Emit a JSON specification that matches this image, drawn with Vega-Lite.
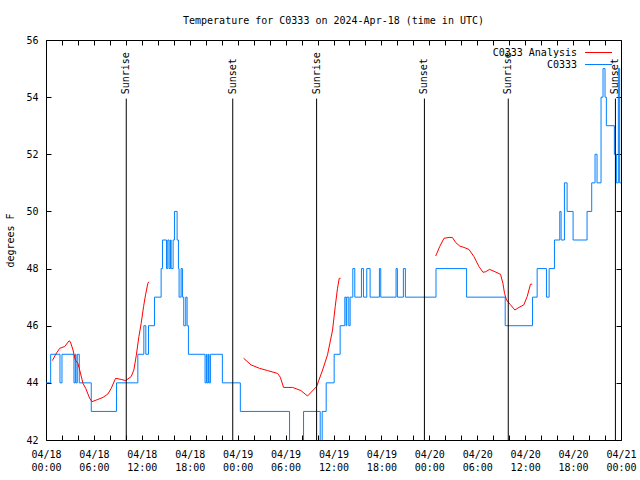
{
  "$schema": "https://vega.github.io/schema/vega-lite/v6.json",
  "width": 575,
  "height": 400,
  "autosize": {"type": "none"},
  "padding": {"left": 46, "top": 40, "right": 19, "bottom": 40},
  "background": "white",
  "title": {"text": "Temperature for C0333 on 2024-Apr-18 (time in UTC)", "font": "DejaVu Sans Mono", "fontSize": 10, "fontWeight": "normal", "offset": 9, "anchor": "middle", "color": "black"},
  "config": {
    "view": {"stroke": "black", "strokeWidth": 1},
    "axis": {"grid": false, "domain": false, "labelFont": "DejaVu Sans Mono", "labelFontSize": 10, "labelColor": "black", "titleFont": "DejaVu Sans Mono", "titleFontSize": 10, "titleFontWeight": "normal", "titleColor": "black", "tickColor": "black", "tickSize": -5, "tickCount": 100},
    "legend": {"labelFont": "DejaVu Sans Mono", "labelFontSize": 10, "labelColor": "black"}
  },
  "datasets": {
    "obs": [
      {"t": "2024-04-18T00:00:00Z", "v": 44}, {"t": "2024-04-18T00:35:00Z", "v": 45}, {"t": "2024-04-18T01:45:00Z", "v": 44}, {"t": "2024-04-18T02:00:00Z", "v": 45},
      {"t": "2024-04-18T03:30:00Z", "v": 44}, {"t": "2024-04-18T03:40:00Z", "v": 45}, {"t": "2024-04-18T03:45:00Z", "v": 44}, {"t": "2024-04-18T03:55:00Z", "v": 45},
      {"t": "2024-04-18T04:10:00Z", "v": 44}, {"t": "2024-04-18T05:40:00Z", "v": 43}, {"t": "2024-04-18T08:50:00Z", "v": 44}, {"t": "2024-04-18T11:30:00Z", "v": 45},
      {"t": "2024-04-18T12:15:00Z", "v": 46}, {"t": "2024-04-18T12:30:00Z", "v": 45}, {"t": "2024-04-18T12:50:00Z", "v": 46}, {"t": "2024-04-18T13:35:00Z", "v": 47},
      {"t": "2024-04-18T14:25:00Z", "v": 48}, {"t": "2024-04-18T14:35:00Z", "v": 49}, {"t": "2024-04-18T15:05:00Z", "v": 48}, {"t": "2024-04-18T15:15:00Z", "v": 49},
      {"t": "2024-04-18T15:25:00Z", "v": 48}, {"t": "2024-04-18T15:35:00Z", "v": 49}, {"t": "2024-04-18T15:40:00Z", "v": 48}, {"t": "2024-04-18T15:55:00Z", "v": 49},
      {"t": "2024-04-18T16:05:00Z", "v": 50}, {"t": "2024-04-18T16:25:00Z", "v": 49}, {"t": "2024-04-18T16:35:00Z", "v": 48}, {"t": "2024-04-18T16:40:00Z", "v": 47},
      {"t": "2024-04-18T16:55:00Z", "v": 48}, {"t": "2024-04-18T17:05:00Z", "v": 47}, {"t": "2024-04-18T17:15:00Z", "v": 46}, {"t": "2024-04-18T17:30:00Z", "v": 47},
      {"t": "2024-04-18T17:40:00Z", "v": 46}, {"t": "2024-04-18T17:50:00Z", "v": 45}, {"t": "2024-04-18T19:55:00Z", "v": 44}, {"t": "2024-04-18T20:05:00Z", "v": 45},
      {"t": "2024-04-18T20:10:00Z", "v": 44}, {"t": "2024-04-18T20:20:00Z", "v": 45}, {"t": "2024-04-18T20:25:00Z", "v": 44}, {"t": "2024-04-18T20:35:00Z", "v": 45},
      {"t": "2024-04-18T22:05:00Z", "v": 44}, {"t": "2024-04-19T00:20:00Z", "v": 43}, {"t": "2024-04-19T06:30:00Z", "v": 41}, {"t": "2024-04-19T08:15:00Z", "v": 43},
      {"t": "2024-04-19T10:20:00Z", "v": 41}, {"t": "2024-04-19T10:35:00Z", "v": 43}, {"t": "2024-04-19T11:05:00Z", "v": 44}, {"t": "2024-04-19T12:05:00Z", "v": 45},
      {"t": "2024-04-19T12:50:00Z", "v": 46}, {"t": "2024-04-19T13:25:00Z", "v": 47}, {"t": "2024-04-19T13:35:00Z", "v": 46}, {"t": "2024-04-19T13:40:00Z", "v": 47},
      {"t": "2024-04-19T13:55:00Z", "v": 46}, {"t": "2024-04-19T14:05:00Z", "v": 47}, {"t": "2024-04-19T14:25:00Z", "v": 48}, {"t": "2024-04-19T14:40:00Z", "v": 47},
      {"t": "2024-04-19T15:30:00Z", "v": 48}, {"t": "2024-04-19T15:45:00Z", "v": 47}, {"t": "2024-04-19T16:10:00Z", "v": 48}, {"t": "2024-04-19T16:35:00Z", "v": 47},
      {"t": "2024-04-19T17:45:00Z", "v": 48}, {"t": "2024-04-19T17:55:00Z", "v": 47}, {"t": "2024-04-19T19:50:00Z", "v": 48}, {"t": "2024-04-19T20:00:00Z", "v": 47},
      {"t": "2024-04-19T20:45:00Z", "v": 48}, {"t": "2024-04-19T21:00:00Z", "v": 47}, {"t": "2024-04-20T00:50:00Z", "v": 48}, {"t": "2024-04-20T04:40:00Z", "v": 47},
      {"t": "2024-04-20T09:30:00Z", "v": 46}, {"t": "2024-04-20T12:55:00Z", "v": 47}, {"t": "2024-04-20T13:30:00Z", "v": 48}, {"t": "2024-04-20T14:40:00Z", "v": 47},
      {"t": "2024-04-20T15:00:00Z", "v": 48}, {"t": "2024-04-20T15:40:00Z", "v": 49}, {"t": "2024-04-20T16:20:00Z", "v": 50}, {"t": "2024-04-20T16:30:00Z", "v": 49},
      {"t": "2024-04-20T16:55:00Z", "v": 51}, {"t": "2024-04-20T17:15:00Z", "v": 50}, {"t": "2024-04-20T18:00:00Z", "v": 49}, {"t": "2024-04-20T19:45:00Z", "v": 50},
      {"t": "2024-04-20T20:20:00Z", "v": 51}, {"t": "2024-04-20T20:45:00Z", "v": 52}, {"t": "2024-04-20T21:00:00Z", "v": 51}, {"t": "2024-04-20T21:30:00Z", "v": 54},
      {"t": "2024-04-20T21:45:00Z", "v": 55}, {"t": "2024-04-20T22:00:00Z", "v": 54}, {"t": "2024-04-20T22:10:00Z", "v": 53}, {"t": "2024-04-20T23:10:00Z", "v": 52},
      {"t": "2024-04-20T23:25:00Z", "v": 51}, {"t": "2024-04-20T23:40:00Z", "v": 55}, {"t": "2024-04-20T23:50:00Z", "v": 51}, {"t": "2024-04-21T00:00:00Z", "v": 51}
    ],
    "ana": [
      {"t": "2024-04-18T00:48:00Z", "v": 44.78, "seg": 1}, {"t": "2024-04-18T01:13:00Z", "v": 45.0, "seg": 1}, {"t": "2024-04-18T01:43:00Z", "v": 45.21, "seg": 1},
      {"t": "2024-04-18T02:20:00Z", "v": 45.27, "seg": 1}, {"t": "2024-04-18T02:53:00Z", "v": 45.47, "seg": 1}, {"t": "2024-04-18T03:03:00Z", "v": 45.44, "seg": 1},
      {"t": "2024-04-18T03:23:00Z", "v": 45.15, "seg": 1}, {"t": "2024-04-18T03:40:00Z", "v": 44.8, "seg": 1}, {"t": "2024-04-18T04:00:00Z", "v": 44.68, "seg": 1},
      {"t": "2024-04-18T04:13:00Z", "v": 44.45, "seg": 1}, {"t": "2024-04-18T04:38:00Z", "v": 43.98, "seg": 1}, {"t": "2024-04-18T04:58:00Z", "v": 43.81, "seg": 1},
      {"t": "2024-04-18T05:28:00Z", "v": 43.46, "seg": 1}, {"t": "2024-04-18T05:45:00Z", "v": 43.34, "seg": 1}, {"t": "2024-04-18T06:30:00Z", "v": 43.42, "seg": 1},
      {"t": "2024-04-18T07:08:00Z", "v": 43.49, "seg": 1}, {"t": "2024-04-18T07:45:00Z", "v": 43.61, "seg": 1}, {"t": "2024-04-18T08:10:00Z", "v": 43.81, "seg": 1},
      {"t": "2024-04-18T08:43:00Z", "v": 44.16, "seg": 1}, {"t": "2024-04-18T09:25:00Z", "v": 44.12, "seg": 1}, {"t": "2024-04-18T09:58:00Z", "v": 44.08, "seg": 1},
      {"t": "2024-04-18T10:40:00Z", "v": 44.22, "seg": 1}, {"t": "2024-04-18T11:00:00Z", "v": 44.45, "seg": 1}, {"t": "2024-04-18T11:18:00Z", "v": 44.95, "seg": 1},
      {"t": "2024-04-18T11:38:00Z", "v": 45.62, "seg": 1}, {"t": "2024-04-18T11:55:00Z", "v": 46.08, "seg": 1}, {"t": "2024-04-18T12:13:00Z", "v": 46.67, "seg": 1},
      {"t": "2024-04-18T12:28:00Z", "v": 47.08, "seg": 1}, {"t": "2024-04-18T12:45:00Z", "v": 47.48, "seg": 1}, {"t": "2024-04-18T12:53:00Z", "v": 47.54, "seg": 1},
      {"t": "2024-04-19T00:45:00Z", "v": 44.86, "seg": 2}, {"t": "2024-04-19T01:40:00Z", "v": 44.63, "seg": 2}, {"t": "2024-04-19T02:43:00Z", "v": 44.51, "seg": 2},
      {"t": "2024-04-19T03:45:00Z", "v": 44.43, "seg": 2}, {"t": "2024-04-19T05:00:00Z", "v": 44.33, "seg": 2}, {"t": "2024-04-19T05:20:00Z", "v": 44.2, "seg": 2},
      {"t": "2024-04-19T05:45:00Z", "v": 43.84, "seg": 2}, {"t": "2024-04-19T06:53:00Z", "v": 43.84, "seg": 2}, {"t": "2024-04-19T07:55:00Z", "v": 43.73, "seg": 2},
      {"t": "2024-04-19T08:45:00Z", "v": 43.54, "seg": 2}, {"t": "2024-04-19T09:53:00Z", "v": 43.87, "seg": 2}, {"t": "2024-04-19T10:38:00Z", "v": 44.45, "seg": 2},
      {"t": "2024-04-19T11:15:00Z", "v": 44.98, "seg": 2}, {"t": "2024-04-19T11:53:00Z", "v": 45.85, "seg": 2}, {"t": "2024-04-19T12:13:00Z", "v": 46.67, "seg": 2},
      {"t": "2024-04-19T12:30:00Z", "v": 47.31, "seg": 2}, {"t": "2024-04-19T12:43:00Z", "v": 47.66, "seg": 2}, {"t": "2024-04-19T12:53:00Z", "v": 47.66, "seg": 2},
      {"t": "2024-04-20T00:48:00Z", "v": 48.44, "seg": 3}, {"t": "2024-04-20T01:18:00Z", "v": 48.77, "seg": 3}, {"t": "2024-04-20T01:50:00Z", "v": 49.06, "seg": 3},
      {"t": "2024-04-20T02:28:00Z", "v": 49.09, "seg": 3}, {"t": "2024-04-20T02:53:00Z", "v": 49.09, "seg": 3}, {"t": "2024-04-20T03:18:00Z", "v": 48.91, "seg": 3},
      {"t": "2024-04-20T03:48:00Z", "v": 48.79, "seg": 3}, {"t": "2024-04-20T04:20:00Z", "v": 48.74, "seg": 3}, {"t": "2024-04-20T04:58:00Z", "v": 48.67, "seg": 3},
      {"t": "2024-04-20T05:35:00Z", "v": 48.42, "seg": 3}, {"t": "2024-04-20T06:13:00Z", "v": 48.07, "seg": 3}, {"t": "2024-04-20T06:43:00Z", "v": 47.87, "seg": 3},
      {"t": "2024-04-20T07:03:00Z", "v": 47.89, "seg": 3}, {"t": "2024-04-20T07:33:00Z", "v": 47.97, "seg": 3}, {"t": "2024-04-20T08:13:00Z", "v": 47.89, "seg": 3},
      {"t": "2024-04-20T08:55:00Z", "v": 47.8, "seg": 3}, {"t": "2024-04-20T09:13:00Z", "v": 47.48, "seg": 3}, {"t": "2024-04-20T09:25:00Z", "v": 47.13, "seg": 3},
      {"t": "2024-04-20T09:40:00Z", "v": 46.9, "seg": 3}, {"t": "2024-04-20T10:10:00Z", "v": 46.73, "seg": 3}, {"t": "2024-04-20T10:43:00Z", "v": 46.55, "seg": 3},
      {"t": "2024-04-20T11:13:00Z", "v": 46.64, "seg": 3}, {"t": "2024-04-20T11:50:00Z", "v": 46.73, "seg": 3}, {"t": "2024-04-20T12:15:00Z", "v": 47.02, "seg": 3},
      {"t": "2024-04-20T12:40:00Z", "v": 47.45, "seg": 3}, {"t": "2024-04-20T12:53:00Z", "v": 47.46, "seg": 3}
    ],
    "sun": [
      {"t": "2024-04-18T10:03:00Z", "label": "Sunrise"}, {"t": "2024-04-18T23:23:00Z", "label": "Sunset"},
      {"t": "2024-04-19T09:53:00Z", "label": "Sunrise"}, {"t": "2024-04-19T23:23:00Z", "label": "Sunset"},
      {"t": "2024-04-20T09:53:00Z", "label": "Sunrise"}, {"t": "2024-04-20T23:18:00Z", "label": "Sunset"}
    ]
  },
  "resolve": {"axis": {"x": "independent", "y": "independent"}},
  "layer": [
    {
      "data": {"name": "obs"},
      "mark": {"type": "line", "interpolate": "step-after", "strokeWidth": 1, "clip": true},
      "encoding": {
        "x": {"field": "t", "type": "temporal",
              "scale": {"type": "utc", "domain": [1713398400000, 1713657600000]},
              "axis": {"orient": "bottom", "title": null,
                       "values": [1713398400000, 1713405600000, 1713412800000, 1713420000000, 1713427200000, 1713434400000, 1713441600000, 1713448800000, 1713456000000, 1713463200000, 1713470400000, 1713477600000, 1713484800000, 1713492000000, 1713499200000, 1713506400000, 1713513600000, 1713520800000, 1713528000000, 1713535200000, 1713542400000, 1713549600000, 1713556800000, 1713564000000, 1713571200000, 1713578400000, 1713585600000, 1713592800000, 1713600000000, 1713607200000, 1713614400000, 1713621600000, 1713628800000, 1713636000000, 1713643200000, 1713650400000, 1713657600000],
                       "labelOverlap": false, "labelFlush": false, "labelPadding": 14, "labelLineHeight": 13,
                       "labelExpr": "utchours(datum.value) % 6 == 0 ? [utcFormat(datum.value, '%m/%d'), utcFormat(datum.value, '%H:%M')] : ''"}},
        "y": {"field": "v", "type": "quantitative",
              "scale": {"domain": [42, 56], "nice": false, "zero": false},
              "axis": {"orient": "left", "title": "degrees F", "format": "d", "values": [42, 44, 46, 48, 50, 52, 54, 56], "labelPadding": 13, "titlePadding": 10}},
        "color": {"datum": "C0333", "type": "nominal",
                  "scale": {"domain": ["C0333 Analysis", "C0333"], "range": ["#ff0000", "#0080ff"]},
                  "legend": {"title": null, "orient": "top-right", "offset": 7, "symbolType": "M-2.7,0H2.7", "symbolSize": 100, "symbolStrokeWidth": 1, "rowPadding": 1, "labelAlign": "right", "labelOffset": -27}}
      }
    },
    {
      "data": {"name": "ana"},
      "mark": {"type": "line", "strokeWidth": 1, "clip": true},
      "encoding": {
        "x": {"field": "t", "type": "temporal", "axis": null},
        "y": {"field": "v", "type": "quantitative", "axis": null},
        "detail": {"field": "seg", "type": "nominal"},
        "color": {"datum": "C0333 Analysis", "type": "nominal"}
      }
    },
    {
      "data": {"name": "sun"},
      "mark": {"type": "rule", "color": "black", "strokeWidth": 1},
      "encoding": {
        "x": {"field": "t", "type": "temporal",
              "axis": {"orient": "top", "title": null, "labels": false,
                       "values": [1713398400000, 1713405600000, 1713412800000, 1713420000000, 1713427200000, 1713434400000, 1713441600000, 1713448800000, 1713456000000, 1713463200000, 1713470400000, 1713477600000, 1713484800000, 1713492000000, 1713499200000, 1713506400000, 1713513600000, 1713520800000, 1713528000000, 1713535200000, 1713542400000, 1713549600000, 1713556800000, 1713564000000, 1713571200000, 1713578400000, 1713585600000, 1713592800000, 1713600000000, 1713607200000, 1713614400000, 1713621600000, 1713628800000, 1713636000000, 1713643200000, 1713650400000, 1713657600000]}},
        "y": {"datum": 42, "type": "quantitative",
              "axis": {"orient": "right", "title": null, "labels": false, "values": [42, 44, 46, 48, 50, 52, 54, 56]}},
        "y2": {"datum": 53.95}
      }
    },
    {
      "data": {"name": "sun"},
      "mark": {"type": "text", "angle": 270, "align": "left", "baseline": "middle", "font": "DejaVu Sans Mono", "fontSize": 10, "color": "black"},
      "encoding": {
        "x": {"field": "t", "type": "temporal", "axis": null},
        "y": {"datum": 54.1, "type": "quantitative", "axis": null},
        "text": {"field": "label"}
      }
    }
  ]
}
